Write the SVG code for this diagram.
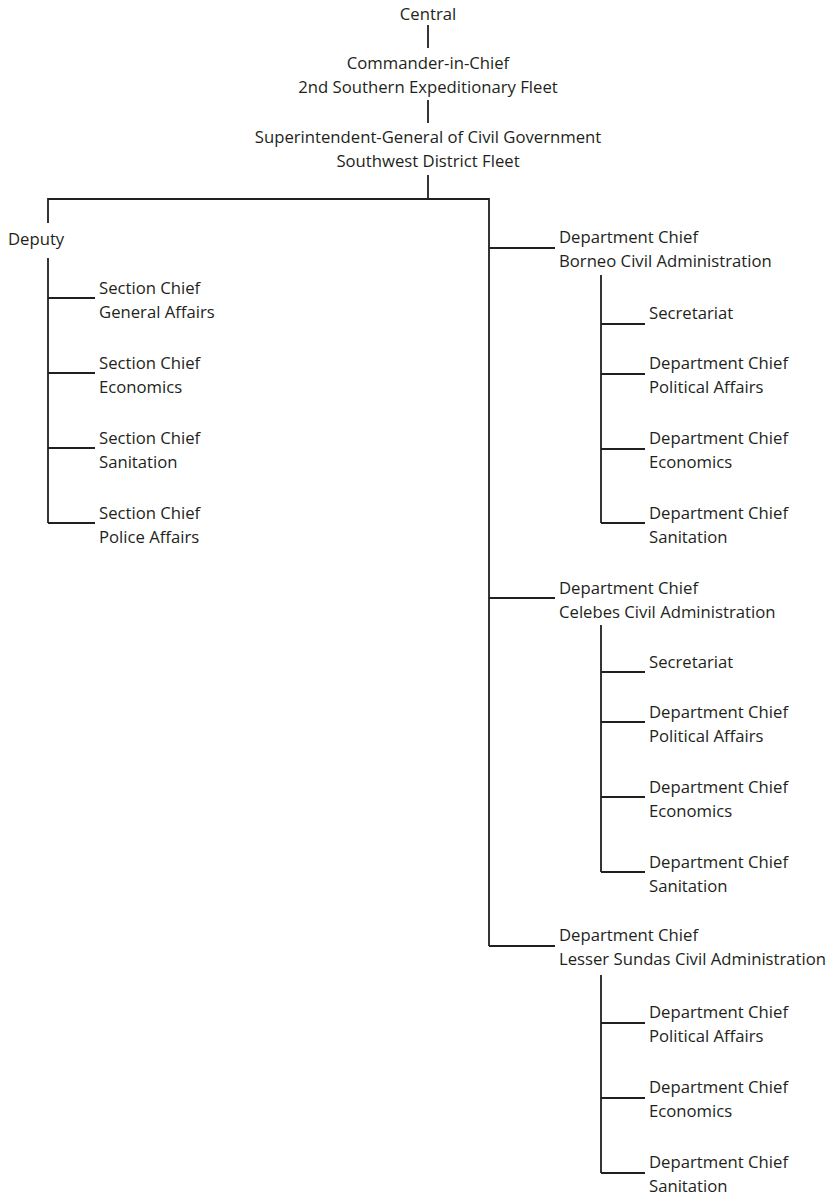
<svg xmlns="http://www.w3.org/2000/svg" width="835" height="1197" viewBox="0 0 835 1197">
<style>
text{font-family:"Open Sans","Liberation Sans",Arial,sans-serif;font-size:16.7px;fill:#231f20}
.c{text-anchor:middle}
#connectors path{fill:none;stroke:#231f20;stroke-width:1.8}
</style>
<rect width="835" height="1197" fill="#fff"/>
<g id="connectors">
<path d="M428,25V48M428,100V123M428,175V199"/>
<path d="M48,223V199H489V946"/>
<path d="M48,258V523"/>
<path d="M48,298H95M48,373H95M48,448H95M48,523H95"/>
<path d="M489,248H555M489,598H555M489,946H555"/>
<path d="M601,275V523M601,324H645M601,374H645M601,449H645M601,523H645"/>
<path d="M601,625V872M601,672H645M601,722H645M601,797H645M601,872H645"/>
<path d="M601,975V1173M601,1023H645M601,1098H645M601,1173H645"/>
</g>
<g id="central"><text class="c" x="428" y="20">Central</text></g>
<g id="commander"><text class="c" x="428" y="69">Commander-in-Chief</text><text class="c" x="428" y="93">2nd Southern Expeditionary Fleet</text></g>
<g id="superintendent"><text class="c" x="428" y="143">Superintendent-General of Civil Government</text><text class="c" x="428" y="167">Southwest District Fleet</text></g>
<g id="deputy"><text x="8" y="245">Deputy</text></g>
<g id="sec-general"><text x="99" y="294">Section Chief</text><text x="99" y="318">General Affairs</text></g>
<g id="sec-economics"><text x="99" y="369">Section Chief</text><text x="99" y="393">Economics</text></g>
<g id="sec-sanitation"><text x="99" y="444">Section Chief</text><text x="99" y="468">Sanitation</text></g>
<g id="sec-police"><text x="99" y="519">Section Chief</text><text x="99" y="543">Police Affairs</text></g>
<g id="borneo"><text x="559" y="243">Department Chief</text><text x="559" y="267">Borneo Civil Administration</text></g>
<g id="borneo-secretariat"><text x="649" y="319">Secretariat</text></g>
<g id="borneo-political"><text x="649" y="369">Department Chief</text><text x="649" y="393">Political Affairs</text></g>
<g id="borneo-economics"><text x="649" y="444">Department Chief</text><text x="649" y="468">Economics</text></g>
<g id="borneo-sanitation"><text x="649" y="519">Department Chief</text><text x="649" y="543">Sanitation</text></g>
<g id="celebes"><text x="559" y="594">Department Chief</text><text x="559" y="618">Celebes Civil Administration</text></g>
<g id="celebes-secretariat"><text x="649" y="668">Secretariat</text></g>
<g id="celebes-political"><text x="649" y="718">Department Chief</text><text x="649" y="742">Political Affairs</text></g>
<g id="celebes-economics"><text x="649" y="793">Department Chief</text><text x="649" y="817">Economics</text></g>
<g id="celebes-sanitation"><text x="649" y="868">Department Chief</text><text x="649" y="892">Sanitation</text></g>
<g id="sundas"><text x="559" y="941">Department Chief</text><text x="559" y="965">Lesser Sundas Civil Administration</text></g>
<g id="sundas-political"><text x="649" y="1018">Department Chief</text><text x="649" y="1042">Political Affairs</text></g>
<g id="sundas-economics"><text x="649" y="1093">Department Chief</text><text x="649" y="1117">Economics</text></g>
<g id="sundas-sanitation"><text x="649" y="1168">Department Chief</text><text x="649" y="1192">Sanitation</text></g>
</svg>
